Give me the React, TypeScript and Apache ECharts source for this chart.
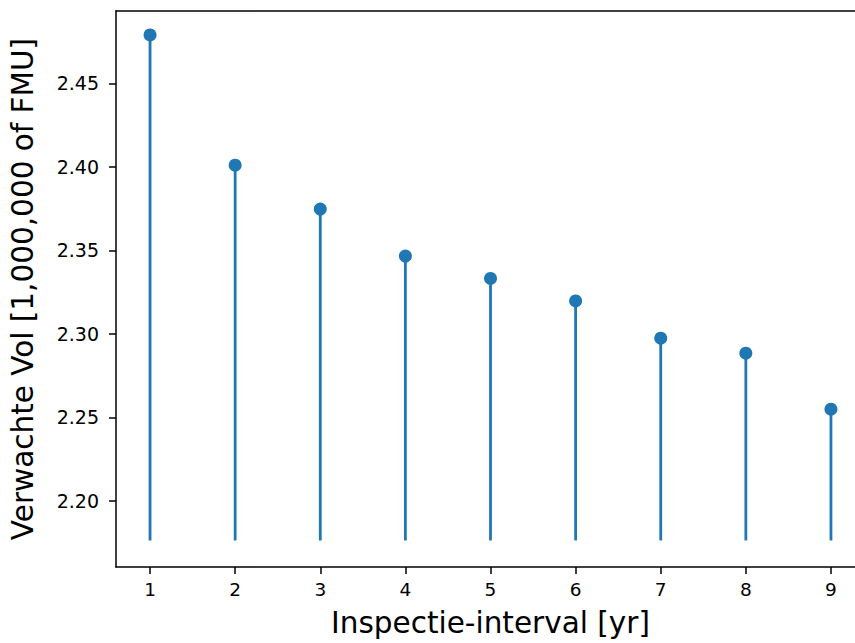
import React, { useEffect, useRef } from "react";
import * as echarts from "echarts";

const intervals = [1, 2, 3, 4, 5, 6, 7, 8, 9];
const expectedLoss = [2.479, 2.401, 2.3747, 2.3466, 2.3332, 2.3197, 2.2974, 2.2884, 2.2549];
const stemBase = 2.1763;
const xTicks = [1, 2, 3, 4, 5, 6, 7, 8, 9];
const yTicks = [2.2, 2.25, 2.3, 2.35, 2.4, 2.45];

const BLUE = "#1f77b4";
const FONT = "DejaVu Sans";

export default function App() {
  const ref = useRef<HTMLDivElement>(null);
  useEffect(() => {
    if (!ref.current) return;
    const chart = echarts.init(ref.current, undefined, { renderer: "svg" });
    const pts = intervals.map((x, i) => [x, expectedLoss[i]]);
    chart.setOption({
      animation: false,
      backgroundColor: "#ffffff",
      grid: {
        left: 111,
        top: 11,
        right: 15,
        bottom: 71,
        show: false,
        containLabel: false,
      },
      xAxis: [
        {
          type: "value",
          min: 0.6,
          max: 9.4,
          name: "Inspectie-interval [yr]",
          nameLocation: "middle",
          nameGap: 41,
          nameTextStyle: { fontFamily: FONT, fontSize: 29.5, color: "#000" },
          axisLine: { show: true, onZero: false, lineStyle: { color: "#000", width: 1.5 } },
          axisTick: { show: true, length: 7, lineStyle: { color: "#000", width: 1.5 }, customValues: xTicks },
          axisLabel: {
            fontFamily: FONT,
            fontSize: 18.5,
            color: "#000",
            margin: 13,
            customValues: xTicks,
            formatter: (v: number) => String(v),
          },
          splitLine: { show: false },
        },
        {
          type: "value",
          position: "top",
          min: 0.6,
          max: 9.4,
          axisLine: { show: true, onZero: false, lineStyle: { color: "#000", width: 1.5 } },
          axisTick: { show: false },
          axisLabel: { show: false },
          splitLine: { show: false },
        },
      ],
      yAxis: {
        type: "value",
        min: 2.1604,
        max: 2.4933,
        name: "Verwachte Vol [1,000,000 of FMU]",
        nameLocation: "middle",
        nameGap: 78,
        nameRotate: 90,
        nameTextStyle: { fontFamily: FONT, fontSize: 29.5, color: "#000" },
        axisLine: { show: true, onZero: false, lineStyle: { color: "#000", width: 1.5 } },
        axisTick: { show: true, length: 7, lineStyle: { color: "#000", width: 1.5 }, customValues: yTicks },
        axisLabel: {
          fontFamily: FONT,
          fontSize: 19,
          color: "#000",
          margin: 17,
          customValues: yTicks,
          formatter: (v: number) => v.toFixed(2),
        },
        splitLine: { show: false },
      },
      series: [
        {
          type: "custom",
          xAxisIndex: 0,
          data: pts,
          encode: { x: 0, y: 1 },
          clip: false,
          renderItem: (params: any, api: any) => {
            const x = api.value(0);
            const y = api.value(1);
            const p1 = api.coord([x, stemBase]);
            const p2 = api.coord([x, y]);
            return {
              type: "line",
              shape: { x1: p1[0], y1: p1[1], x2: p2[0], y2: p2[1] },
              style: { stroke: BLUE, lineWidth: 2.8 },
            };
          },
        },
        {
          type: "scatter",
          xAxisIndex: 0,
          data: pts,
          symbol: "circle",
          symbolSize: 13,
          itemStyle: { color: BLUE, opacity: 1 },
        },
      ],
    });
    return () => chart.dispose();
  }, []);
  return (
    <div style={{ position: "fixed", left: 0, top: 0, width: 855, height: 643, overflow: "hidden", background: "#fff" }}>
      <div ref={ref} style={{ width: 880, height: 643 }} />
    </div>
  );
}
